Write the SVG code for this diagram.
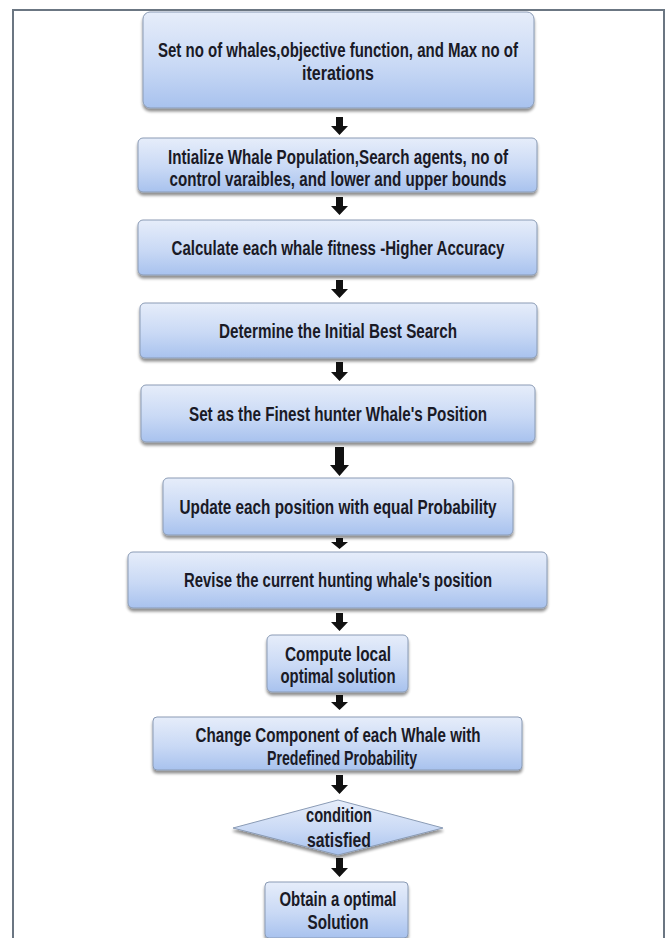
<svg xmlns="http://www.w3.org/2000/svg" width="669" height="938" viewBox="0 0 669 938">
  <defs>
    <linearGradient id="boxFill" x1="0" y1="0" x2="0" y2="1">
      <stop offset="0" stop-color="#e6edfa"/>
      <stop offset="0.55" stop-color="#c9d9f5"/>
      <stop offset="1" stop-color="#a8c2ee"/>
    </linearGradient>
    <filter id="shadow" x="-5%" y="-10%" width="110%" height="130%">
      <feGaussianBlur in="SourceAlpha" stdDeviation="1.6"/>
      <feOffset dx="0" dy="2.5" result="b"/>
      <feComponentTransfer><feFuncA type="linear" slope="0.45"/></feComponentTransfer>
      <feMerge><feMergeNode/><feMergeNode in="SourceGraphic"/></feMerge>
    </filter>
  </defs>
  <style>
    .box { fill: url(#boxFill); stroke: #8a9bb5; stroke-width: 1; filter: url(#shadow); }
    .lbl { font-family: "Liberation Sans Narrow", "Liberation Sans", Arial, sans-serif; font-size: 20px; font-weight: bold; fill: #1a1a26; text-anchor: middle; }
    .arrow { fill: #111111; }
  </style>

  <rect x="0" y="0" width="669" height="938" fill="#ffffff"/>
  <!-- outer frame -->
  <rect x="13" y="10" width="651" height="940" fill="#ffffff" stroke="#6b7682" stroke-width="2"/>

  <!-- connectors -->
  <g id="connectors">
    <path class="arrow" d="M336 117 h7 v9 h5 l-8.5 9 l-8.5 -9 h5 z"/>
    <path class="arrow" d="M336 197 h7 v9 h5 l-8.5 9 l-8.5 -9 h5 z"/>
    <path class="arrow" d="M336 280 h7 v9 h5 l-8.5 9 l-8.5 -9 h5 z"/>
    <path class="arrow" d="M336 362 h7 v10 h5 l-8.5 9 l-8.5 -9 h5 z"/>
    <path class="arrow" d="M335 447 h9 v18 h5 l-9.5 11 l-9.5 -11 h5 z"/>
    <path class="arrow" d="M336 538 h7 v4 h5 l-8.5 7 l-8.5 -7 h5 z"/>
    <path class="arrow" d="M336 613 h7 v9 h5 l-8.5 9 l-8.5 -9 h5 z"/>
    <path class="arrow" d="M336 695 h7 v7 h5 l-8.5 8 l-8.5 -8 h5 z"/>
    <path class="arrow" d="M336 775 h7 v10 h5 l-8.5 9 l-8.5 -9 h5 z"/>
    <path class="arrow" d="M336 858 h7 v10 h5 l-8.5 9 l-8.5 -9 h5 z"/>
  </g>

  <g id="n1">
    <rect class="box" x="143" y="12" width="391" height="96" rx="7"/>
    <text class="lbl" x="338" y="57" textLength="360" lengthAdjust="spacingAndGlyphs">Set no of whales,objective function,  and Max no of</text>
    <text class="lbl" x="338" y="80" textLength="72" lengthAdjust="spacingAndGlyphs">iterations</text>
  </g>
  <g id="n2">
    <rect class="box" x="138" y="138" width="399" height="54" rx="5"/>
    <text class="lbl" x="338" y="164" textLength="340" lengthAdjust="spacingAndGlyphs">Intialize  Whale Population,Search agents, no of</text>
    <text class="lbl" x="338" y="186" textLength="337" lengthAdjust="spacingAndGlyphs">control varaibles,  and lower and  upper bounds</text>
  </g>
  <g id="n3">
    <rect class="box" x="138" y="220" width="399" height="55" rx="5"/>
    <text class="lbl" x="338" y="255" textLength="333" lengthAdjust="spacingAndGlyphs">Calculate each whale fitness -Higher Accuracy</text>
  </g>
  <g id="n4">
    <rect class="box" x="140" y="303" width="397" height="55" rx="5"/>
    <text class="lbl" x="338" y="338" textLength="238" lengthAdjust="spacingAndGlyphs">Determine the  Initial Best Search</text>
  </g>
  <g id="n5">
    <rect class="box" x="141" y="385" width="394" height="57" rx="5"/>
    <text class="lbl" x="338" y="421" textLength="298" lengthAdjust="spacingAndGlyphs">Set as the Finest hunter  Whale's Position</text>
  </g>
  <g id="n6">
    <rect class="box" x="163" y="478" width="350" height="57" rx="5"/>
    <text class="lbl" x="338" y="514" textLength="317" lengthAdjust="spacingAndGlyphs">Update  each position with equal Probability</text>
  </g>
  <g id="n7">
    <rect class="box" x="128" y="552" width="419" height="56" rx="5"/>
    <text class="lbl" x="338" y="587" textLength="308" lengthAdjust="spacingAndGlyphs">Revise the current hunting whale's position</text>
  </g>
  <g id="n8">
    <rect class="box" x="267" y="635" width="141" height="57" rx="5"/>
    <text class="lbl" x="338" y="661" textLength="106" lengthAdjust="spacingAndGlyphs">Compute local</text>
    <text class="lbl" x="338" y="683" textLength="115" lengthAdjust="spacingAndGlyphs">optimal solution</text>
  </g>
  <g id="n9">
    <rect class="box" x="153" y="717" width="369" height="53" rx="4"/>
    <text class="lbl" x="338" y="742" textLength="285" lengthAdjust="spacingAndGlyphs">Change Component of  each Whale with</text>
    <text class="lbl" x="342" y="765" textLength="150" lengthAdjust="spacingAndGlyphs">Predefined Probability</text>
  </g>
  <g id="n10">
    <polygon class="box" points="338,800 443,828 338,855 233,828"/>
    <text class="lbl" x="339" y="822" textLength="66" lengthAdjust="spacingAndGlyphs">condition</text>
    <text class="lbl" x="339" y="847" textLength="64" lengthAdjust="spacingAndGlyphs">satisfied</text>
  </g>
  <g id="n11">
    <rect class="box" x="265" y="882" width="143" height="56" rx="4"/>
    <text class="lbl" x="338" y="906" textLength="117" lengthAdjust="spacingAndGlyphs">Obtain a optimal</text>
    <text class="lbl" x="338" y="929" textLength="61" lengthAdjust="spacingAndGlyphs">Solution</text>
  </g>
</svg>
